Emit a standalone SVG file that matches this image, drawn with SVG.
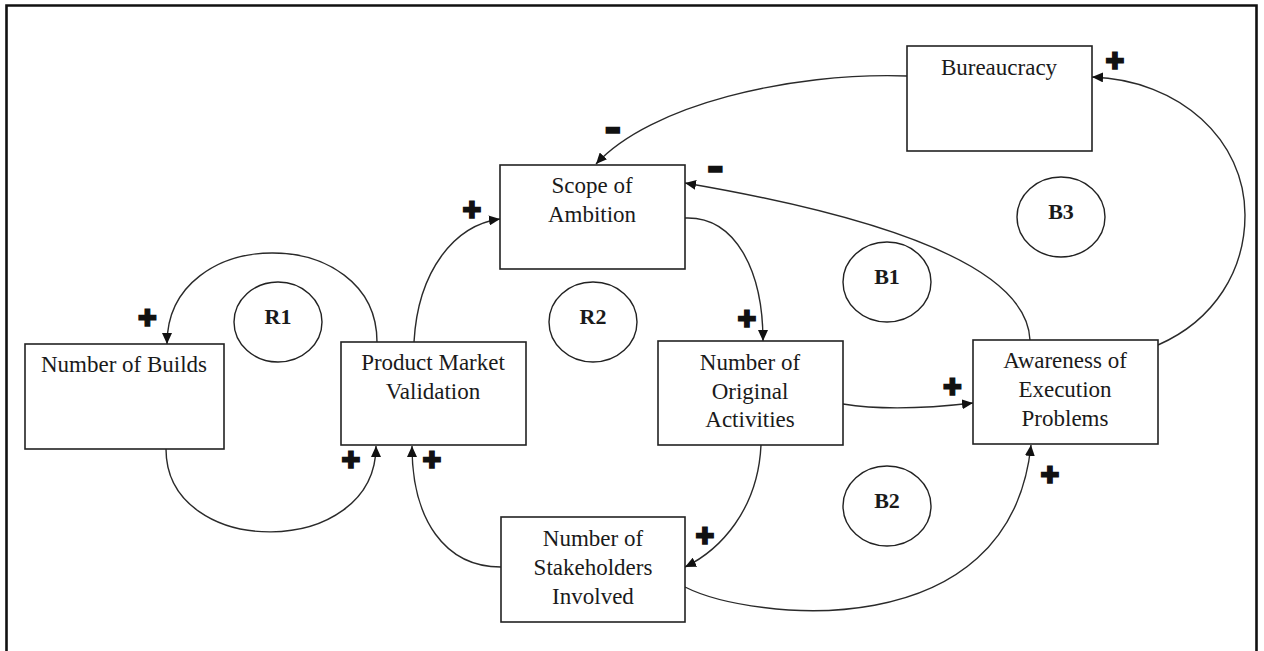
<svg xmlns="http://www.w3.org/2000/svg" width="1264" height="651" viewBox="0 0 1264 651">
  <style>
    .box { fill: #fff; stroke: #222; stroke-width: 1.6; }
    .lbl { font-family: "Liberation Serif", "Times New Roman", serif; font-size: 23px; fill: #1a1a1a; text-anchor: middle; }
    .loop { fill: none; stroke: #222; stroke-width: 1.4; }
    .loopid { font-family: "Liberation Serif", "Times New Roman", serif; font-size: 22px; font-weight: bold; fill: #1a1a1a; text-anchor: middle; }
    .link { fill: none; stroke: #2a2a2a; stroke-width: 1.4; marker-end: url(#arrow); }
    .sign { font-family: "DejaVu Sans", sans-serif; fill: #111; text-anchor: middle; }
    .plus { font-size: 23px; stroke: #111; stroke-width: 1.3; stroke-linejoin: miter; }
    .minus { font-size: 19px; }
  </style>
  <defs>
    <marker id="arrow" viewBox="0 0 11 10" refX="11" refY="5" markerWidth="11" markerHeight="10" markerUnits="userSpaceOnUse" orient="auto">
      <path d="M0,0 L11,5 L0,10 z" fill="#111"/>
    </marker>
  </defs>

  <rect width="1264" height="651" fill="#fff"/>
  <!-- outer frame, open at the bottom -->
  <path d="M6.5,651 V5.5 H1256.5 V651" fill="none" stroke="#111" stroke-width="2.6"/>

  <!-- causal links -->
  <g id="connectors">
    <path class="link" d="M377,342 C377,223 167,223 167,344"/>
    <path class="link" d="M166,449 C166,560 376,560 376,446"/>
    <path class="link" d="M501,567 C445,567 412,520 412,446"/>
    <path class="link" d="M414,342 C418,270 455,225 500,219"/>
    <path class="link" d="M685,218 C735,216 763,270 763,341"/>
    <path class="link" d="M843,404 C880,410 930,408 973,403"/>
    <path class="link" d="M761,445 C758,510 720,550 685,567"/>
    <path class="link" d="M685,587 C750,620 1010,650 1031,445"/>
    <path class="link" d="M907,76 C790,72 650,105 596,164"/>
    <path class="link" d="M1030,340 C1028,290 960,230 685,183"/>
    <path class="link" d="M1158,345 C1215,320 1245,270 1245,215 C1245,140 1180,80 1092,77"/>
  </g>

  <!-- link polarities -->
  <g id="polarities">
    <text class="sign plus" x="147.5" y="326">✚</text>
    <text class="sign plus" x="472" y="218">✚</text>
    <text class="sign plus" x="747" y="327">✚</text>
    <text class="sign plus" x="952.5" y="395">✚</text>
    <text class="sign plus" x="1115" y="69">✚</text>
    <text class="sign plus" x="351" y="468">✚</text>
    <text class="sign plus" x="432" y="468">✚</text>
    <text class="sign plus" x="705" y="544">✚</text>
    <text class="sign plus" x="1050" y="483">✚</text>
    <text class="sign minus" x="613" y="135">▬</text>
    <text class="sign minus" x="715.5" y="174">▬</text>
  </g>

  <g id="number-of-builds">
    <rect class="box" x="25" y="344" width="199" height="105"/>
    <text class="lbl" x="124" y="372">Number of Builds</text>
  </g>
  <g id="product-market-validation">
    <rect class="box" x="341" y="342" width="185" height="103"/>
    <text class="lbl" x="433" y="370">Product Market</text>
    <text class="lbl" x="433" y="399">Validation</text>
  </g>
  <g id="scope-of-ambition">
    <rect class="box" x="500" y="165" width="185" height="104"/>
    <text class="lbl" x="592" y="193">Scope of</text>
    <text class="lbl" x="592" y="222">Ambition</text>
  </g>
  <g id="number-of-original-activities">
    <rect class="box" x="658" y="341" width="185" height="104"/>
    <text class="lbl" x="750" y="370">Number of</text>
    <text class="lbl" x="750" y="399">Original</text>
    <text class="lbl" x="750" y="427">Activities</text>
  </g>
  <g id="number-of-stakeholders-involved">
    <rect class="box" x="501" y="517" width="184" height="105"/>
    <text class="lbl" x="593" y="546">Number of</text>
    <text class="lbl" x="593" y="575">Stakeholders</text>
    <text class="lbl" x="593" y="604">Involved</text>
  </g>
  <g id="awareness-of-execution-problems">
    <rect class="box" x="973" y="340" width="185" height="104"/>
    <text class="lbl" x="1065" y="368">Awareness of</text>
    <text class="lbl" x="1065" y="397">Execution</text>
    <text class="lbl" x="1065" y="426">Problems</text>
  </g>
  <g id="bureaucracy">
    <rect class="box" x="907" y="46" width="185" height="105"/>
    <text class="lbl" x="999" y="75">Bureaucracy</text>
  </g>

  <!-- loop identifiers -->
  <g id="loop-r1">
    <ellipse class="loop" cx="278" cy="322" rx="44" ry="40"/>
    <text class="loopid" x="278" y="324">R1</text>
  </g>
  <g id="loop-r2">
    <ellipse class="loop" cx="593" cy="322" rx="44" ry="40"/>
    <text class="loopid" x="593" y="324">R2</text>
  </g>
  <g id="loop-b1">
    <ellipse class="loop" cx="887" cy="282" rx="44" ry="40"/>
    <text class="loopid" x="887" y="284">B1</text>
  </g>
  <g id="loop-b2">
    <ellipse class="loop" cx="887" cy="506" rx="44" ry="40"/>
    <text class="loopid" x="887" y="508">B2</text>
  </g>
  <g id="loop-b3">
    <ellipse class="loop" cx="1061" cy="217" rx="44" ry="40"/>
    <text class="loopid" x="1061" y="219">B3</text>
  </g>
</svg>
